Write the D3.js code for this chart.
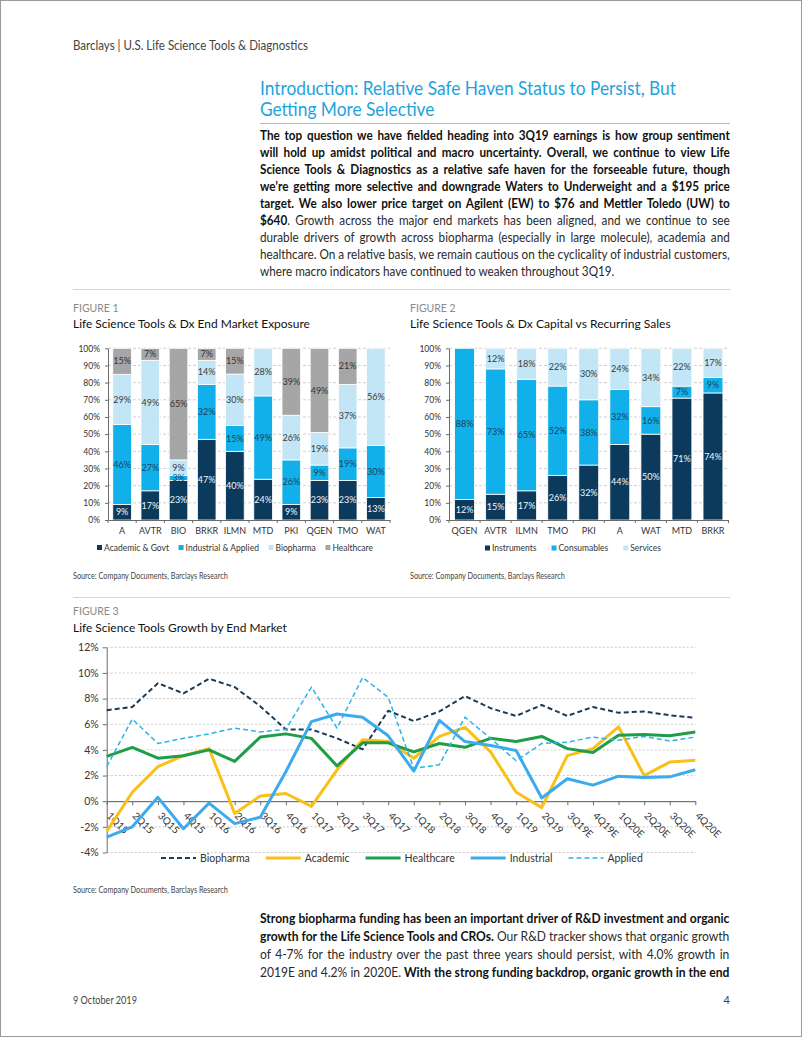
<!DOCTYPE html>
<html><head><meta charset="utf-8">
<script src="https://cdn.jsdelivr.net/npm/d3@7/dist/d3.min.js"></script>
<style>
body{margin:0;background:#fff}
svg{display:block}
text{font-family:Lato,"Open Sans",sans-serif}
</style>
</head><body>
<svg id="page" width="802" height="1037"></svg>
<script>
// ---------- DATA ----------
const fig1Categories = ["A","AVTR","BIO","BRKR","ILMN","MTD","PKI","QGEN","TMO","WAT"];
const fig1Series = ["Academic & Govt","Industrial & Applied","Biopharma","Healthcare"];
const fig1AcademicGovt = [9,17,23,47,40,24,9,23,23,13];
const fig1IndustrialApplied = [46,27,3,32,15,49,26,9,19,30];
const fig1Biopharma = [29,49,9,14,30,28,26,19,37,56];
const fig1Healthcare = [15,7,65,7,15,0,39,49,21,0];

const fig2Categories = ["QGEN","AVTR","ILMN","TMO","PKI","A","WAT","MTD","BRKR"];
const fig2Series = ["Instruments","Consumables","Services"];
const fig2Instruments = [12,15,17,26,32,44,50,71,74];
const fig2Consumables = [88,73,65,52,38,32,16,7,9];
const fig2Services = [0,12,18,22,30,24,34,22,17];

const barTicks = [0,0.1,0.2,0.3,0.4,0.5,0.6,0.7,0.8,0.9,1.0];

const quarters = ["1Q15","2Q15","3Q15","4Q15","1Q16","2Q16","3Q16","4Q16","1Q17","2Q17","3Q17","4Q17",
  "1Q18","2Q18","3Q18","4Q18","1Q19","2Q19","3Q19E","4Q19E","1Q20E","2Q20E","3Q20E","4Q20E"];
const fig3Series = ["Biopharma","Academic","Healthcare","Industrial","Applied"];
const growthBiopharma = [7.1,7.35,9.2,8.4,9.55,8.9,7.4,5.6,5.6,4.9,4.05,7.05,6.25,7.0,8.2,7.25,6.65,7.5,6.65,7.35,6.9,7.0,6.7,6.5];
const growthAcademic = [-2.35,0.7,2.7,3.55,4.1,-0.95,0.4,0.6,-0.4,2.45,4.8,4.65,3.35,5.05,5.75,3.85,0.7,-0.5,3.55,4.1,5.8,2.0,3.05,3.2];
const growthHealthcare = [3.5,4.2,3.35,3.55,4.0,3.1,5.0,5.25,4.9,2.75,4.55,4.55,3.85,4.5,4.2,4.9,4.65,5.05,4.1,3.8,5.15,5.2,5.1,5.4];
const growthIndustrial = [-2.8,-2.0,0.3,-2.15,-0.15,-1.75,-1.25,2.3,6.2,6.8,6.55,5.1,2.35,6.3,4.65,4.35,3.95,0.25,1.75,1.25,1.95,1.85,1.9,2.45];
const growthApplied = [2.7,6.4,4.5,4.9,5.25,5.7,5.4,5.6,8.9,5.7,9.65,8.1,2.55,2.85,6.55,4.9,3.15,4.5,4.6,5.0,4.75,5.05,4.7,5.0];
const growthTicks = [-4,-2,0,2,4,6,8,10,12];

// ---------- HELPERS ----------
const page = d3.select("#page");
page.append("rect").attr("x",0.5).attr("y",0.5).attr("width",801).attr("height",1036)
  .attr("fill","#fff").attr("stroke","#9a9a9a");

function textAt(parent, x, y, str, o) {
  const t = parent.append("text").attr("font-size", o.size).attr("fill", o.fill || "#222")
    .attr("font-weight", o.weight || 400).text(str);
  if (o.anchor) t.attr("text-anchor", o.anchor);
  let s = 1;
  if (o.width) s = o.width / t.node().getComputedTextLength();
  if (o.scale) s = o.scale;
  t.attr("transform", `translate(${x},${y}) scale(${s},1)`);
  return s;
}

function paragraph(parent, lines, x, y0, lh, width, size, fill, justifyLast) {
  const nodes = lines.map(segs => {
    const t = parent.append("text").attr("font-size", size).attr("fill", fill);
    segs.forEach(([str, bold]) => t.append("tspan").attr("font-weight", bold ? 700 : 400)
      .attr("fill", bold ? "#111" : "#2a2a2a").text(str));
    return t;
  });
  const widths = nodes.map(t => t.node().getComputedTextLength());
  const just = lines.map((_, i) => i < lines.length - 1 || justifyLast);
  let s = d3.min(widths.filter((w, i) => just[i]).map(w => width / w));
  s = Math.min(s, 1);
  nodes.forEach((t, i) => {
    t.attr("transform", `translate(${x},${y0 + i * lh}) scale(${s},1)`);
    if (just[i]) {
      const str = lines[i].map(d => d[0]).join("");
      const n = (str.match(/ /g) || []).length;
      t.style("word-spacing", ((width / s - widths[i]) / n) + "px");
    }
  });
}

// ---------- PAGE TEXT ----------
textAt(page, 73, 50, "Barclays | U.S. Life Science Tools & Diagnostics", {size: 12.5, fill: "#444", width: 235});
const ts = textAt(page, 260, 95, "Introduction: Relative Safe Haven Status to Persist, But", {size: 19.5, fill: "#1ea3dc", width: 416});
textAt(page, 260, 116, "Getting More Selective", {size: 19.5, fill: "#1ea3dc", scale: ts});
page.append("line").attr("x1",260).attr("x2",730).attr("y1",123.5).attr("y2",123.5).attr("stroke","#b8b8b8");

paragraph(page, [
  [["The top question we have fielded heading into 3Q19 earnings is how group sentiment", 1]],
  [["will hold up amidst political and macro uncertainty. Overall, we continue to view Life", 1]],
  [["Science Tools & Diagnostics as a relative safe haven for the forseeable future, though", 1]],
  [["we\u2019re getting more selective and downgrade Waters to Underweight and a $195 price", 1]],
  [["target. We also lower price target on Agilent (EW) to $76 and Mettler Toledo (UW) to", 1]],
  [["$640", 1], [". Growth across the major end markets has been aligned, and we continue to see", 0]],
  [["durable drivers of growth across biopharma (especially in large molecule), academia and", 0]],
  [["healthcare. On a relative basis, we remain cautious on the cyclicality of industrial customers,", 0]],
  [["where macro indicators have continued to weaken throughout 3Q19.", 0]]
], 260, 139.5, 17, 470, 12.5, "#1a1a1a", false);

page.append("line").attr("x1",73).attr("x2",730).attr("y1",289.5).attr("y2",289.5).attr("stroke","#d4d4d4");
page.append("line").attr("x1",73).attr("x2",730).attr("y1",597.5).attr("y2",597.5).attr("stroke","#d4d4d4");

textAt(page, 73, 312, "FIGURE 1", {size: 10.5, fill: "#8a8a8a"});
textAt(page, 73, 328, "Life Science Tools & Dx End Market Exposure", {size: 11.5, fill: "#111", width: 237});
textAt(page, 410, 312, "FIGURE 2", {size: 10.5, fill: "#8a8a8a"});
textAt(page, 410, 328, "Life Science Tools & Dx Capital vs Recurring Sales", {size: 11.5, fill: "#111", width: 261});
textAt(page, 73, 579, "Source: Company Documents, Barclays Research", {size: 9.5, fill: "#444", width: 155});
textAt(page, 410, 579, "Source: Company Documents, Barclays Research", {size: 9.5, fill: "#444", width: 155});
textAt(page, 73, 615, "FIGURE 3", {size: 10.5, fill: "#8a8a8a"});
textAt(page, 73, 632, "Life Science Tools Growth by End Market", {size: 11.5, fill: "#111", width: 214});
textAt(page, 73, 893, "Source: Company Documents, Barclays Research", {size: 9.5, fill: "#444", width: 155});

paragraph(page, [
  [["Strong biopharma funding has been an important driver of R&D investment and organic", 1]],
  [["growth for the Life Science Tools and CROs.", 1], [" Our R&D tracker shows that organic growth", 0]],
  [["of 4-7% for the industry over the past three years should persist, with 4.0% growth in", 0]],
  [["2019E and 4.2% in 2020E.", 0], [" With the strong funding backdrop, organic growth in the end", 1]]
], 260, 923, 18, 470, 12.5, "#1a1a1a", true);

textAt(page, 73, 1004, "9 October 2019", {size: 11, fill: "#444", width: 64});
textAt(page, 730, 1004, "4", {size: 11, fill: "#444", anchor: "end"});

// ---------- STACKED BARS ----------
const NAVY = "#0c3a5c", CYAN = "#11b0ea", LIGHT = "#c3e6f6", GREY = "#a6a6a6";

function styleAxis(a) {
  a.attr("font-family", null).attr("font-size", null);
  a.select(".domain").attr("stroke", "#6b6b6b");
  a.selectAll(".tick line").attr("stroke", "#6b6b6b");
  a.selectAll(".tick text").attr("fill", "#333");
}

function stackedBar(c) {
  const g = page.append("g");
  const rows = c.cats.map((cat, i) => { const o = {cat}; c.keys.forEach((k, j) => o[k] = c.values[j][i]); return o; });
  const series = d3.stack().keys(c.keys).offset(d3.stackOffsetExpand)(rows);
  const x = d3.scaleBand().domain(c.cats).range([c.x0, c.x1]).paddingInner(c.pad).paddingOuter(c.pad / 2);
  const y = d3.scaleLinear().domain([0, 1]).range([c.yBot, c.yTop]);

  g.append("g").selectAll("line").data(barTicks.slice(1)).join("line")
    .attr("x1", c.x0).attr("x2", c.x1).attr("y1", d => y(d)).attr("y2", d => y(d))
    .attr("stroke", "#c4c4c4").attr("stroke-width", 0.8).attr("stroke-dasharray", "3,2");

  const sg = g.append("g").selectAll("g").data(series).join("g").attr("fill", (d, i) => c.colors[i]);
  sg.selectAll("rect").data(d => d).join("rect")
    .attr("x", d => x(d.data.cat)).attr("width", x.bandwidth())
    .attr("y", d => y(d[1])).attr("height", d => Math.max(0, y(d[0]) - y(d[1])))
    .attr("stroke", "#fff").attr("stroke-width", 0.8);

  series.forEach((s, j) => {
    g.append("g").selectAll("text").data(s.filter(d => d.data[s.key] > 0)).join("text")
      .attr("x", d => x(d.data.cat) + x.bandwidth() / 2)
      .attr("y", d => (y(d[0]) + y(d[1])) / 2).attr("dy", "0.35em")
      .attr("text-anchor", "middle").attr("font-size", 9).attr("fill", c.labelColors[j])
      .text(d => d.data[s.key] + "%");
  });

  const ya = g.append("g").attr("transform", `translate(${c.x0},0)`)
    .call(d3.axisLeft(y).tickValues(barTicks).tickFormat(d3.format(".0%")).tickSize(3).tickSizeOuter(0).tickPadding(5));
  styleAxis(ya); ya.selectAll(".tick text").attr("font-size", 8.5);

  const xa = g.append("g").attr("transform", `translate(0,${c.yBot})`)
    .call(d3.axisBottom(x).tickSize(0).tickSizeOuter(0).tickPadding(8));
  styleAxis(xa); xa.selectAll(".tick text").attr("font-size", 9);
  const bounds = d3.range(c.cats.length + 1).map(k => c.x0 + k * x.step());
  g.append("g").selectAll("line").data(bounds).join("line")
    .attr("x1", d => d).attr("x2", d => d).attr("y1", c.yBot).attr("y2", c.yBot + 3)
    .attr("stroke", "#6b6b6b");

  // legend
  const lg = g.append("g").attr("transform", `translate(0,${c.legendY})`);
  const items = c.legend.map((name, i) => {
    const it = lg.append("g");
    it.append("rect").attr("x", 0).attr("y", -3).attr("width", 5).attr("height", 5).attr("fill", c.colors[i]);
    const t = it.append("text").attr("x", 7).attr("dy", "0.35em").attr("font-size", 8.5).attr("fill", "#333").text(name);
    return {it, w: 7 + t.node().getComputedTextLength()};
  });
  const total = d3.sum(items, d => d.w);
  const gap = (c.legendX1 - c.legendX0 - total) / (items.length - 1);
  let cx = c.legendX0;
  items.forEach(d => { d.it.attr("transform", `translate(${cx},0)`); cx += d.w + gap; });
}

stackedBar({
  cats: fig1Categories, keys: fig1Series,
  values: [fig1AcademicGovt, fig1IndustrialApplied, fig1Biopharma, fig1Healthcare],
  colors: [NAVY, CYAN, LIGHT, GREY], labelColors: ["#f2f6f9", "#203f57", "#3a3a3a", "#333"],
  x0: 108, x1: 390, pad: 0.34, yTop: 348.3, yBot: 520,
  legend: fig1Series, legendY: 548, legendX0: 97, legendX1: 373
});
stackedBar({
  cats: fig2Categories, keys: fig2Series,
  values: [fig2Instruments, fig2Consumables, fig2Services],
  colors: [NAVY, CYAN, LIGHT], labelColors: ["#f2f6f9", "#203f57", "#3a3a3a"],
  x0: 449, x1: 728.5, pad: 0.36, yTop: 348.3, yBot: 520,
  legend: fig2Series, legendY: 548.5, legendX0: 485, legendX1: 661
});

// ---------- LINE CHART ----------
(function () {
  const g = page.append("g");
  const x = d3.scalePoint().domain(quarters).range([106.7, 695.3]);
  const y = d3.scaleLinear().domain([-4, 12]).range([852.5, 647.3]);

  g.append("g").selectAll("line").data(growthTicks.filter(d => d !== 0)).join("line")
    .attr("x1", 106.7).attr("x2", 695.3).attr("y1", d => y(d)).attr("y2", d => y(d))
    .attr("stroke", "#bdbdbd").attr("stroke-width", 0.8).attr("stroke-dasharray", "2,2");

  const ya = g.append("g").attr("transform", "translate(106.7,0)")
    .call(d3.axisLeft(y).tickValues(growthTicks).tickFormat(d => d + "%").tickSize(4).tickSizeOuter(0).tickPadding(4));
  styleAxis(ya); ya.selectAll(".tick text").attr("font-size", 10.5);

  const xa = g.append("g").attr("transform", `translate(0,${y(0)})`)
    .call(d3.axisBottom(x).tickSize(4).tickSizeOuter(0));
  styleAxis(xa);
  xa.select(".domain").attr("stroke", "#555");
  xa.selectAll(".tick text").attr("font-size", 10)
    .attr("transform", "rotate(45)").attr("x", 10).attr("y", 11.5).attr("dy", 0)
    .attr("text-anchor", "start");

  const styles = [
    {vals: growthBiopharma, color: "#1b3a57", w: 2, dash: "5,3"},
    {vals: growthAcademic, color: "#f9c01a", w: 3, dash: null},
    {vals: growthHealthcare, color: "#1f9d48", w: 3, dash: null},
    {vals: growthIndustrial, color: "#3caaec", w: 3, dash: null},
    {vals: growthApplied, color: "#2ab5e3", w: 1.5, dash: "5,3"}
  ];
  const line = d3.line().x((d, i) => x(quarters[i])).y(d => y(d));
  styles.forEach(s => {
    g.append("path").datum(s.vals).attr("d", line).attr("fill", "none")
      .attr("stroke", s.color).attr("stroke-width", s.w).attr("stroke-dasharray", s.dash)
      .attr("stroke-linejoin", "round");
  });

  // legend
  const lg = g.append("g").attr("transform", "translate(0,858)");
  let cx = 161;
  fig3Series.forEach((name, i) => {
    const s = styles[i];
    lg.append("line").attr("x1", cx).attr("x2", cx + 35).attr("y1", 0).attr("y2", 0)
      .attr("stroke", s.color).attr("stroke-width", s.w).attr("stroke-dasharray", s.dash);
    const t = lg.append("text").attr("x", cx + 39).attr("dy", "0.35em").attr("font-size", 10.5)
      .attr("fill", "#333").text(name);
    cx += 39 + t.node().getComputedTextLength() + 16;
  });
})();
</script>
</body></html>
